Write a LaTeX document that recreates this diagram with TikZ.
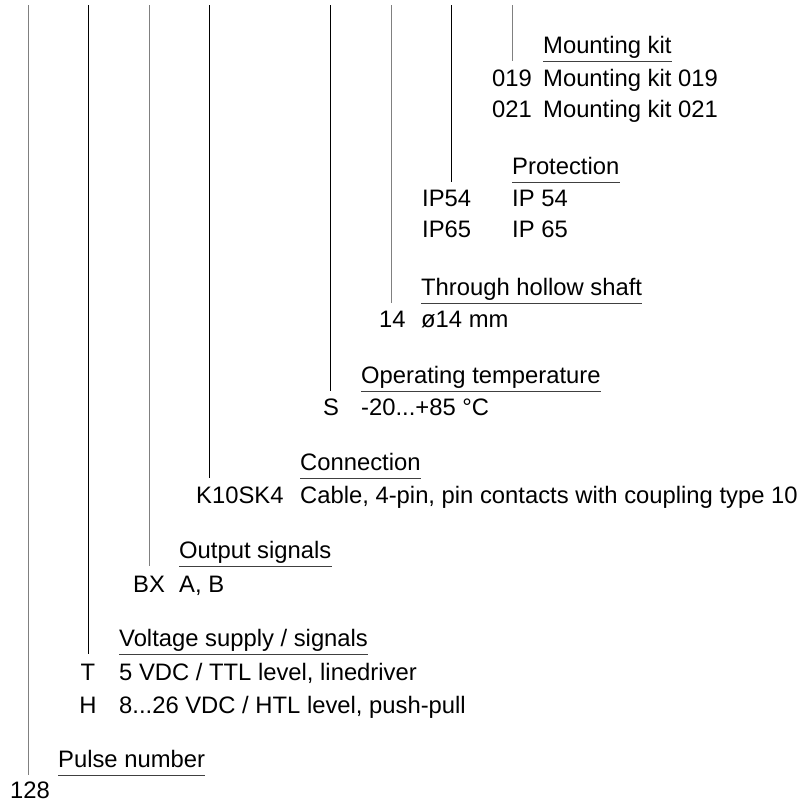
\documentclass[tikz,border=0pt]{standalone}
\usepackage{fontspec}
\setmainfont{Liberation Sans}
\usetikzlibrary{positioning}
\definecolor{LeadGray}{HTML}{808080}
\definecolor{RuleGray}{HTML}{404040}

\begin{document}
\begin{tikzpicture}[x=1pt, y=-1pt,
        txt/.style={inner sep=0pt, anchor=base west, font=\fontsize{23.8}{28}\selectfont},
        code/.style={txt},
        head/.style={txt, text depth=8pt},
        lead/.style={draw=black, line width=0.8pt},
        leadgray/.style={draw=LeadGray, line width=1pt},
        rule/.style={draw=RuleGray, line width=1pt}]

        \useasboundingbox (0,0) rectangle (803,803);

        % top ends of the leads
        \coordinate (tpulse) at (28,5);
        \coordinate (tvolt)  at (88,5);
        \coordinate (tout)   at (149,5);
        \coordinate (tconn)  at (209,5);
        \coordinate (ttemp)  at (330,5);
        \coordinate (tshaft) at (391,5);
        \coordinate (tprot)  at (451,5);
        \coordinate (tmount) at (512,5);

        % mounting kit
        \node[head] (hmount) at (543,53)  {Mounting kit};
        \node[code] (c019)   at (492,86)  {019};
        \node[txt]  (v019)   at (543,86)  {Mounting kit 019};
        \node[code] (c021)   at (492,117) {021};
        \node[txt]  (v021)   at (543,117) {Mounting kit 021};

        % protection
        \node[head] (hprot)  at (512,174) {Protection};
        \node[code] (cip54)  at (422,206) {IP54};
        \node[txt]  (vip54)  at (512,206) {IP 54};
        \node[code] (cip65)  at (422,237) {IP65};
        \node[txt]  (vip65)  at (512,237) {IP 65};

        % hollow shaft
        \node[head] (hshaft) at (421,295) {Through hollow shaft};
        \node[code] (c14)    at (379,327) {14};
        \node[txt]  (v14)    at (421,327) {ø14 mm};

        % temperature
        \node[head] (htemp)  at (361,383) {Operating temperature};
        \node[code] (cs)     at (323,415) {S};
        \node[txt]  (vs)     at (361,415) {-20...+85 °C};

        % connection
        \node[head] (hconn)  at (300,470) {Connection};
        \node[code] (ck10)   at (196,503) {K10SK4};
        \node[txt]  (vk10)   at (300,503) {Cable, 4-pin, pin contacts with coupling type 10};

        % output signals
        \node[head] (hout)   at (179,558) {Output signals};
        \node[code] (cbx)    at (133,592) {BX};
        \node[txt]  (vbx)    at (179,592) {A, B};

        % voltage supply
        \node[head] (hvolt)  at (119,646) {Voltage supply / signals};
        \node[code, anchor=base] (ct) at (88,680) {T};
        \node[txt]  (vt)     at (119,680) {5 VDC / TTL level, linedriver};
        \node[code, anchor=base] (ch) at (88,713) {H};
        \node[txt]  (vh)     at (119,713) {8...26 VDC / HTL level, push-pull};

        % pulse number
        \node[head] (hpulse) at (58,767)  {Pulse number};
        \node[code] (c128)   at (10,798)  {128};

        \draw[leadgray] (tpulse) -- (tpulse |- hpulse.south);
        \draw[lead]     (tvolt)  -- (tvolt  |- hvolt.south);
        \draw[leadgray] (tout)   -- (tout   |- hout.south);
        \draw[lead]     (tconn)  -- (tconn  |- hconn.south);
        \draw[lead]     (ttemp)  -- (ttemp  |- htemp.south);
        \draw[leadgray] (tshaft) -- (tshaft |- hshaft.south);
        \draw[lead]     (tprot)  -- (tprot  |- hprot.south);
        \draw[leadgray] (tmount) -- (tmount |- hmount.south);

        \foreach \h in {hpulse, hvolt, hout, hconn, htemp, hshaft, hprot, hmount}
          \draw[rule] (\h.south west) -- (\h.south east);
      \end{tikzpicture}
\end{document}
